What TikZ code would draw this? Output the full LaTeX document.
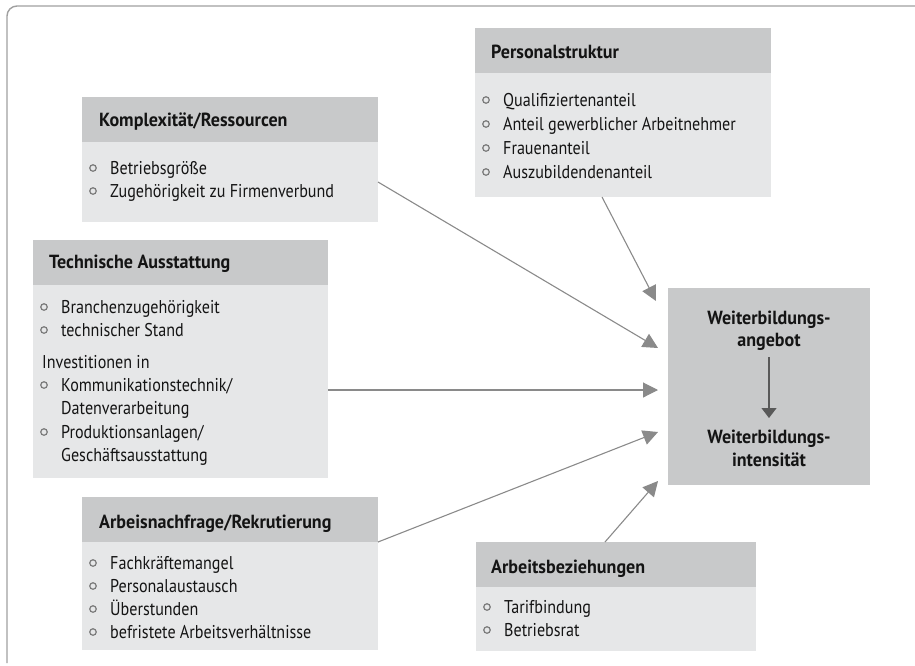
\documentclass[tikz,border=0pt]{standalone}
\usepackage{fontspec}
\setmainfont{PT Sans}
\newfontfamily\itmfont{PT Sans}[FakeStretch=0.87]
\newfontfamily\ttlfont{PT Sans Bold}[FakeStretch=0.95]
\usetikzlibrary{calc,arrows.meta}
\definecolor{hdr}{HTML}{C8C9CA}
\definecolor{bdy}{HTML}{E6E7E8}
\definecolor{arr}{HTML}{8A8A8A}
\definecolor{frm}{HTML}{A0A0A0}
\definecolor{txt}{HTML}{141414}
\definecolor{bul}{HTML}{7A7A7A}
\tikzset{
  x=1pt, y=-1pt,
  hdrbox/.style={fill=hdr, draw=none, anchor=north west, inner sep=0, outer sep=0},
  bdybox/.style={fill=bdy, draw=none, anchor=north west, inner sep=0, outer sep=0},
  ttl/.style={anchor=base west, inner sep=0, font=\ttlfont\fontsize{19}{22}\selectfont, text=txt},
  itm/.style={anchor=base west, inner sep=0, font=\itmfont\fontsize{18.5}{22}\selectfont, text=txt},
  bulc/.style={draw=bul, line width=1.2pt, circle, inner sep=0, minimum size=6.5pt},
  conn/.style={draw=arr, line width=1.1pt, -{Triangle[length=15pt,width=15pt]}},
  inner/.style={draw=black!65, line width=1.1pt, -{Triangle[length=10pt,width=15pt]}},
  ctr/.style={anchor=base, inner sep=0, font=\ttlfont\fontsize{19}{22}\selectfont, text=txt}
}
\newcommand{\bitem}[4]{% name, left x, center y, text
  \node[bulc] (#1-b) at ({#2+11},#3) {};
  \node[itm] (#1) at ({#2+28},{#3+6}) {#4};
}
\begin{document}
\begin{tikzpicture}
\useasboundingbox (0,0) rectangle (915,665);
% frame
\draw[frm, line width=1.4pt, rounded corners=10pt] (7,663) -- (7,6) -- (915,6);

% Personalstruktur
\node[hdrbox, minimum width=296pt, minimum height=45pt] (ph) at (475,28) {};
\node[bdybox, minimum width=296pt, minimum height=124pt] (pb) at (475,73) {};
\node[ttl] (pt) at (491,58) {Personalstruktur};
\bitem{p1}{475}{100}{Qualifiziertenanteil}
\bitem{p2}{475}{124}{Anteil gewerblicher Arbeitnehmer}
\bitem{p3}{475}{148}{Frauenanteil}
\bitem{p4}{475}{172}{Auszubildendenanteil}

% Komplexitaet
\node[hdrbox, minimum width=296pt, minimum height=45pt] (kh) at (82,97) {};
\node[bdybox, minimum width=296pt, minimum height=80pt] (kb) at (82,142) {};
\node[ttl] (kt) at (99,126) {Komplexität/Ressourcen};
\bitem{k1}{82}{168}{Betriebsgröße}
\bitem{k2}{82}{191}{Zugehörigkeit zu Firmenverbund}

% Technische Ausstattung
\node[hdrbox, minimum width=295pt, minimum height=45pt] (th) at (33,240) {};
\node[bdybox, minimum width=295pt, minimum height=193pt] (tb) at (33,285) {};
\node[ttl] (tt) at (49,268) {Technische Ausstattung};
\bitem{t1}{33}{307}{Branchenzugehörigkeit}
\bitem{t2}{33}{330}{technischer Stand}
\node[itm] (t3) at (42,368) {Investitionen in};
\bitem{t4}{33}{385}{Kommunikationstechnik/}
\node[itm] (t5) at (61,414) {Datenverarbeitung};
\bitem{t6}{33}{432}{Produktionsanlagen/}
\node[itm] (t7) at (61,461) {Geschäftsausstattung};

% Arbeitsnachfrage
\node[hdrbox, minimum width=296pt, minimum height=45pt] (ah) at (82,497) {};
\node[bdybox, minimum width=296pt, minimum height=108pt] (ab) at (82,542) {};
\node[ttl] (at) at (99,528) {Arbeisnachfrage/Rekrutierung};
\bitem{a1}{82}{563}{Fachkräftemangel}
\bitem{a2}{82}{586}{Personalaustausch}
\bitem{a3}{82}{609}{Überstunden}
\bitem{a4}{82}{632}{befristete Arbeitsverhältnisse}

% Arbeitsbeziehungen
\node[hdrbox, minimum width=280pt, minimum height=45pt] (rh) at (476,542) {};
\node[bdybox, minimum width=280pt, minimum height=64pt] (rb) at (476,587) {};
\node[ttl] (rt) at (491,573) {Arbeitsbeziehungen};
\bitem{r1}{476}{607}{Tarifbindung}
\bitem{r2}{476}{630}{Betriebsrat}

% central box
\node[hdrbox, minimum width=202pt, minimum height=197pt] (c) at (668,288) {};
\node[ctr] (c1) at (769,324) {Weiterbildungs-};
\node[ctr] (c2) at (769,346) {angebot};
\node[ctr] (c3) at (769,443) {Weiterbildungs-};
\node[ctr] (c4) at (769,466) {intensität};
\coordinate (i1) at (769,357);
\coordinate (i2) at (769,418);
\draw[inner] (i1) -- (i2);

% targets
\coordinate (e1) at (656,301);
\coordinate (e2) at (658,348);
\coordinate (e3) at (658,390);
\coordinate (e4) at (658,432);
\coordinate (e5) at (658,481);
\coordinate (s1) at (602,197);
\coordinate (s5) at (605,542);

\draw[conn] (s1) -- (e1);
\draw[conn] (kb.east) -- (e2);
\draw[conn] (tb.east |- e3) -- (e3);
\draw[conn] (ah.south east) -- (e4);
\draw[conn] (s5) -- (e5);
\end{tikzpicture}
\end{document}
